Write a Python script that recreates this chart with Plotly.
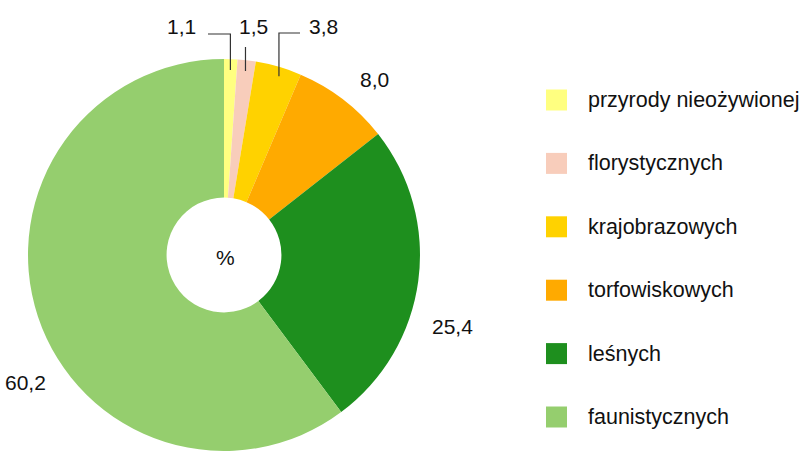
import math
import plotly.graph_objects as go

labels = ["przyrody nieożywionej", "florystycznych", "krajobrazowych",
          "torfowiskowych", "leśnych", "faunistycznych"]
values = [1.1, 1.5, 3.8, 8.0, 25.4, 60.2]
value_text = ["1,1", "1,5", "3,8", "8,0", "25,4", "60,2"]
colors = ["#FFFF80", "#F8CDBB", "#FFD200", "#FFAA00", "#1E8F1E", "#95CE6E"]

W, H = 802, 451
CX, CY, R = 224, 255, 196  # pie center / radius in pixels
FONT = "Liberation Sans, Arial, sans-serif"
FS = 21


def px(x):
    return x / W


def py(y):
    return 1 - y / H


fig = go.Figure(go.Pie(
    labels=labels, values=values, marker=dict(colors=colors, line=dict(width=0)),
    sort=False, direction="clockwise", rotation=0, hole=0.293,
    textinfo="none", hoverinfo="label+value", showlegend=False,
    domain=dict(x=[px(CX - R), px(CX + R)], y=[0, 2 * R / H]),
))

# slice mid-angles (clockwise from top)
total = sum(values)
mids = []
cum = 0
for v in values:
    mids.append((cum + v / 2) / total * 2 * math.pi)
    cum += v


def on_pie(i, frac):
    a = mids[i]
    return CX + R * frac * math.sin(a), CY - R * frac * math.cos(a)


shapes = []
annotations = []
line_style = dict(color="#333333", width=1.2)

# leader lines for small slices
x0, y0 = on_pie(0, 0.945)
shapes.append(dict(type="path", xref="paper", yref="paper",
                   path=f"M{px(x0)},{py(y0)} L{px(x0)},{py(34)} L{px(208)},{py(34)}",
                   line=line_style))
x1, y1 = on_pie(1, 0.945)
shapes.append(dict(type="line", xref="paper", yref="paper",
                   x0=px(x1), y0=py(y1), x1=px(x1), y1=py(47), line=line_style))
x2, y2 = on_pie(2, 0.95)
shapes.append(dict(type="path", xref="paper", yref="paper",
                   path=f"M{px(x2 + 3)},{py(y2)} L{px(x2 + 3)},{py(33)} L{px(300)},{py(33)}",
                   line=line_style))

label_pos = [(181, 27), (254, 27), (323, 27), (374, 79), (453, 326), (25, 382)]
for t, (lx, ly) in zip(value_text, label_pos):
    annotations.append(dict(x=px(lx), y=py(ly), xref="paper", yref="paper",
                            text=t, showarrow=False, xanchor="center", yanchor="middle",
                            font=dict(family=FONT, size=FS, color="#111111")))

annotations.append(dict(x=px(CX + 1), y=py(CY + 2), xref="paper", yref="paper",
                        text="%", showarrow=False, xanchor="center", yanchor="middle",
                        font=dict(family=FONT, size=FS, color="#111111")))

# legend (manual, to match the large square swatches)
for i, (lab, col) in enumerate(zip(labels, colors)):
    yc = 100 + i * 63.4
    shapes.append(dict(type="rect", xref="paper", yref="paper",
                       x0=px(546), x1=px(567), y0=py(yc - 10.5), y1=py(yc + 10.5),
                       fillcolor=col, line=dict(width=0)))
    annotations.append(dict(x=px(586), y=py(yc), xref="paper", yref="paper",
                            text=lab, showarrow=False, xanchor="left", yanchor="middle",
                            font=dict(family=FONT, size=FS + 0.5, color="#111111")))

fig.update_layout(
    width=W, height=H, margin=dict(l=0, r=0, t=0, b=0),
    paper_bgcolor="white", plot_bgcolor="white",
    shapes=shapes, annotations=annotations,
)

fig.write_html("out.html", config={"displayModeBar": False},
               post_script="document.body.style.margin='0';document.body.style.overflow='hidden';")
